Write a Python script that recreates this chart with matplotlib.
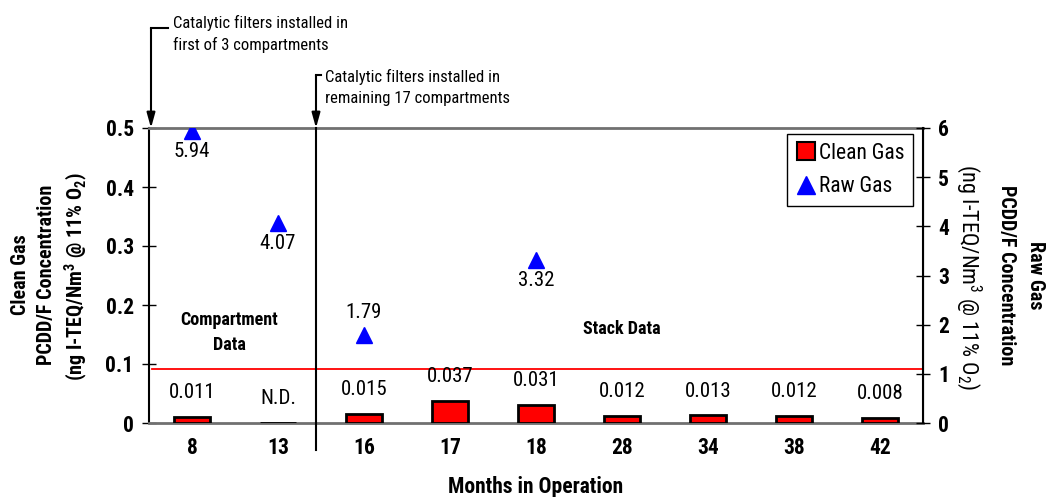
import matplotlib
matplotlib.use("Agg")
import matplotlib.pyplot as plt
from matplotlib import font_manager
from matplotlib.lines import Line2D

# pick a narrow sans family (Arial Narrow look-alike) that has regular + bold
_entries = font_manager.fontManager.ttflist
def _has(name):
    ws = [f.weight for f in _entries if f.name == name and f.style == 'normal']
    ws = [w if isinstance(w, int) else (700 if str(w) == 'bold' else 400) for w in ws]
    return any(w <= 500 for w in ws) and any(w >= 600 for w in ws)
FAM = 'Liberation Sans'
for cand in ['Liberation Sans Narrow', 'Arimo Narrow', 'Roboto Condensed', 'Nimbus Sans Narrow',
             'Fira Sans Condensed', 'IBM Plex Sans Condensed', 'Encode Sans Condensed',
             'PT Sans Narrow', 'Asap Condensed', 'Archivo Narrow', 'Barlow Semi Condensed']:
    if _has(cand):
        FAM = cand
        break
plt.rcParams['font.family'] = [FAM, 'DejaVu Sans']
plt.rcParams['mathtext.fontset'] = 'custom'
plt.rcParams['mathtext.rm'] = FAM
plt.rcParams['mathtext.bf'] = FAM + ':bold'

# ---- data ----
months = ['8', '13', '16', '17', '18', '28', '34', '38', '42']
clean_gas = [0.011, 0.0, 0.015, 0.037, 0.031, 0.012, 0.013, 0.012, 0.008]
clean_labels = ['0.011', 'N.D.', '0.015', '0.037', '0.031', '0.012', '0.013', '0.012', '0.008']
raw_idx = [0, 1, 2, 4]
raw_gas = [5.94, 4.07, 1.79, 3.32]
raw_labels = ['5.94', '4.07', '1.79', '3.32']
limit_line = 0.0915
left_ticks = [0, 0.1, 0.2, 0.3, 0.4, 0.5]
left_ticklabels = ['0', '0.1', '0.2', '0.3', '0.4', '0.5']
right_ticks = [0, 1, 2, 3, 4, 5, 6]

fig = plt.figure(figsize=(10.47, 4.97), dpi=100)
ax = fig.add_axes([149/1047, 1-423/497, (923-149)/1047, (423-128)/497])
x = list(range(len(months)))

ax.bar(x, clean_gas, width=0.42, color='#ff0000', edgecolor='black', linewidth=2,
       zorder=3, label='Clean Gas')
for xi, v, lab in zip(x, clean_gas, clean_labels):
    ax.annotate(lab, (xi, v), xytext=(0, 17.5), textcoords='offset points',
                ha='center', va='center', fontsize=15)

ax.axhline(limit_line, color='#ff0000', linewidth=1.3, xmin=0.004, zorder=2)

ax.set_xlim(-0.5, 8.5)
ax.set_ylim(0, 0.5)
ax.set_xticks(x)
ax.set_xticklabels(months, fontsize=15.5, fontweight='bold')
ax.tick_params(axis='x', length=0, pad=10)
ax.set_yticks(left_ticks)
ax.set_yticklabels(left_ticklabels, fontsize=15.5, fontweight='bold')
ax.tick_params(axis='y', direction='inout', length=10, width=1, pad=6)
ax.set_xlabel('Months in Operation', fontsize=15.5, fontweight='bold', labelpad=12)

for s in ['top', 'bottom']:
    ax.spines[s].set_color('#707070')
    ax.spines[s].set_linewidth(2)
ax.spines['left'].set_linewidth(1.5)

ax2 = ax.twinx()
ax2.set_ylim(0, 6)
ax2.set_yticks(right_ticks)
ax2.set_yticklabels([str(t) for t in right_ticks], fontsize=15.5, fontweight='bold')
ax2.tick_params(axis='y', direction='inout', length=10, width=1, pad=6)
ax2.spines['right'].set_linewidth(1.5)
for s in ['top', 'bottom', 'left']:
    ax2.spines[s].set_visible(False)
rx = [x[i] for i in raw_idx]
ax2.plot(rx, raw_gas, linestyle='none', marker='^', markersize=12, color='#0000ff',
         label='Raw Gas', zorder=4)
for xi, v, lab in zip(rx, raw_gas, raw_labels):
    off = 16 if lab == '1.79' else -15
    ax2.annotate(lab, (xi, v), xytext=(0, off), textcoords='offset points',
                 ha='center', va='center', fontsize=15)

# legend
hsq = Line2D([], [], linestyle='none', marker='s', markersize=13, markerfacecolor='#ff0000',
             markeredgecolor='black', markeredgewidth=1.5)
htri = Line2D([], [], linestyle='none', marker='^', markersize=13, color='#0000ff')
leg = ax2.legend([hsq, htri], ['Clean Gas', 'Raw Gas'], loc='upper right',
                 bbox_to_anchor=(0.987, 0.98), fontsize=15.5, fancybox=False,
                 edgecolor='black', framealpha=1, handletextpad=0.1, borderpad=0.4,
                 handlelength=1.0, labelspacing=0.6, borderaxespad=0)
leg.get_frame().set_linewidth(1)

# region texts
ax.text(0.43, 0.153, 'Compartment\nData', ha='center', va='center', fontsize=13,
        fontweight='bold', linespacing=1.5)
ax.text(5.0, 0.16, 'Stack Data', ha='center', va='center', fontsize=13, fontweight='bold')

# vertical separator & arrows (data coords)
def px2x(px):
    return -0.5 + (px - 149) / 86.0
def py2y(py):
    return (423 - py) / 590.0

vx = px2x(316)
ax.plot([vx, vx], [py2y(450), 0.5], color='black', linewidth=1.5, clip_on=False, zorder=5)
ax.plot([vx, px2x(321)], [py2y(75), py2y(75)], color='black', linewidth=1.5, clip_on=False)
ax.annotate('', xy=(vx, 0.5), xytext=(vx, py2y(75)),
            arrowprops=dict(arrowstyle='-|>,head_length=0.9,head_width=0.25', color='black',
                            lw=1.5, shrinkA=0, shrinkB=0), annotation_clip=False)
ax.text(px2x(325), py2y(87), 'Catalytic filters installed in\nremaining 17 compartments',
        ha='left', va='center', fontsize=12, linespacing=1.5)

ax1x = px2x(151)
ax.plot([ax1x, px2x(168)], [py2y(28), py2y(28)], color='black', linewidth=1.5, clip_on=False)
ax.annotate('', xy=(ax1x, 0.5), xytext=(ax1x, py2y(28)),
            arrowprops=dict(arrowstyle='-|>,head_length=0.9,head_width=0.25', color='black',
                            lw=1.5, shrinkA=0, shrinkB=0), annotation_clip=False)
ax.text(px2x(173), py2y(34), 'Catalytic filters installed in\nfirst of 3 compartments',
        ha='left', va='center', fontsize=12, linespacing=1.5)

# axis labels
fig.text(20/1047, 1-275/497, 'Clean Gas', rotation=90, ha='center', va='center',
         fontsize=14.5, fontweight='bold')
fig.text(47/1047, 1-275/497, 'PCDD/F Concentration', rotation=90, ha='center', va='center',
         fontsize=14.5, fontweight='bold')
fig.text(76/1047, 1-277/497, r'(ng I-TEQ/Nm$^\mathbf{3}$ @ 11% O$_\mathbf{2}$)', rotation=90,
         ha='center', va='center', fontsize=14.5, fontweight='bold')

fig.text(1035/1047, 1-275/497, 'Raw Gas', rotation=270, ha='center', va='center',
         fontsize=14.5, fontweight='bold')
fig.text(1007/1047, 1-275/497, 'PCDD/F Concentration', rotation=270, ha='center', va='center',
         fontsize=14.5, fontweight='bold')
fig.text(969/1047, 1-277/497, r'(ng I-TEQ/Nm$^3$ @ 11% O$_2$)', rotation=270,
         ha='center', va='center', fontsize=16)

fig.savefig('out.png', dpi=100)
